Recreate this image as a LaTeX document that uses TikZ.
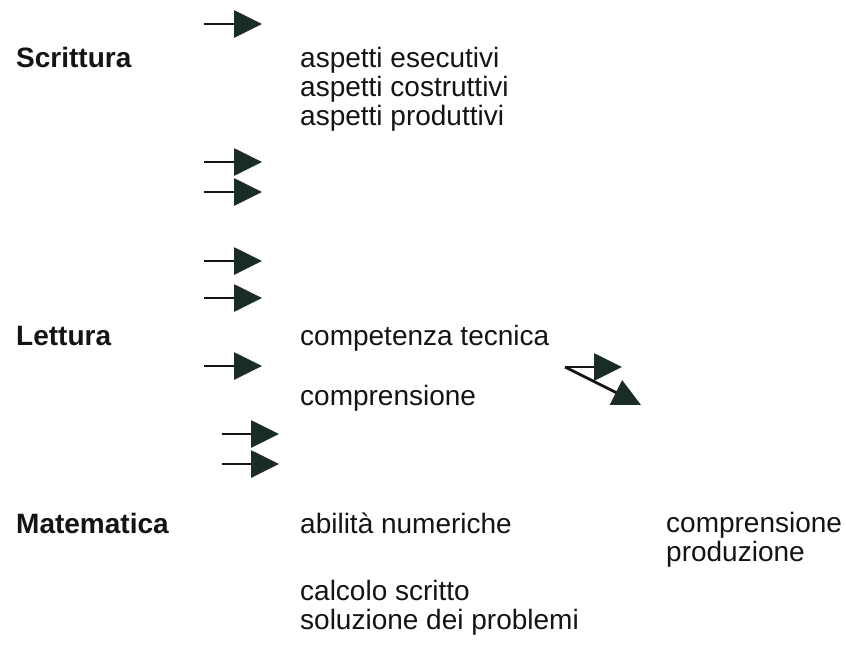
\documentclass[tikz,border=0pt]{standalone}
\usepackage{fontspec}
\setmainfont{Liberation Sans}
\usetikzlibrary{arrows.meta}
\definecolor{headc}{RGB}{26,44,38}
\definecolor{txtc}{RGB}{20,20,20}
\tikzset{
  arr/.style={line width=2.8pt, draw=txtc, -{Triangle[length=28pt,width=27pt,color=headc]}},
  head/.style={anchor=base west, font=\fontsize{28}{30}\selectfont\bfseries, text=txtc, inner sep=0pt},
  item/.style={anchor=base west, font=\fontsize{28}{30}\selectfont, text=txtc, inner sep=0pt}
}
\begin{document}
\begin{tikzpicture}[x=1pt,y=-1pt]
\useasboundingbox[fill=white] (0,0) rectangle (846,646);
% headings
\node[head] (scr) at (16,67) {Scrittura};
\node[head] (let) at (16,345) {Lettura};
\node[head] (mat) at (16,533) {Matematica};
% items
\node[item] (s1) at (300,67) {aspetti esecutivi};
\node[item] (s2) at (300,96) {aspetti costruttivi};
\node[item] (s3) at (300,125) {aspetti produttivi};
\node[item] (l1) at (300,345) {competenza tecnica};
\node[item] (l2) at (300,405) {comprensione};
\node[item] (m1) at (300,533) {abilità numeriche};
\node[item] (m2) at (300,600) {calcolo scritto};
\node[item] (m3) at (300,629) {soluzione dei problemi};
\node[item] (r1) at (666,532) {comprensione};
\node[item] (r2) at (666,561) {produzione};
% arrow coordinates
\coordinate (a1s) at (204,24);  \coordinate (a1e) at (262,24);
\coordinate (a2s) at (204,162); \coordinate (a2e) at (262,162);
\coordinate (a3s) at (204,192); \coordinate (a3e) at (262,192);
\coordinate (a4s) at (204,261); \coordinate (a4e) at (262,261);
\coordinate (a5s) at (204,298); \coordinate (a5e) at (262,298);
\coordinate (a6s) at (204,366); \coordinate (a6e) at (262,366);
\coordinate (a7s) at (222,434); \coordinate (a7e) at (279,434);
\coordinate (a8s) at (222,464); \coordinate (a8e) at (279,464);
\coordinate (bs) at (565,367);
\coordinate (b1e) at (622,367);
\coordinate (b2e) at (641,405);
% arrows
\draw[arr] (a1s) -- (a1e);
\draw[arr] (a2s) -- (a2e);
\draw[arr] (a3s) -- (a3e);
\draw[arr] (a4s) -- (a4e);
\draw[arr] (a5s) -- (a5e);
\draw[arr] (a6s) -- (a6e);
\draw[arr] (a7s) -- (a7e);
\draw[arr] (a8s) -- (a8e);
\draw[arr] (bs) -- (b1e);
\draw[arr] (bs) -- (b2e);
\end{tikzpicture}
\end{document}
